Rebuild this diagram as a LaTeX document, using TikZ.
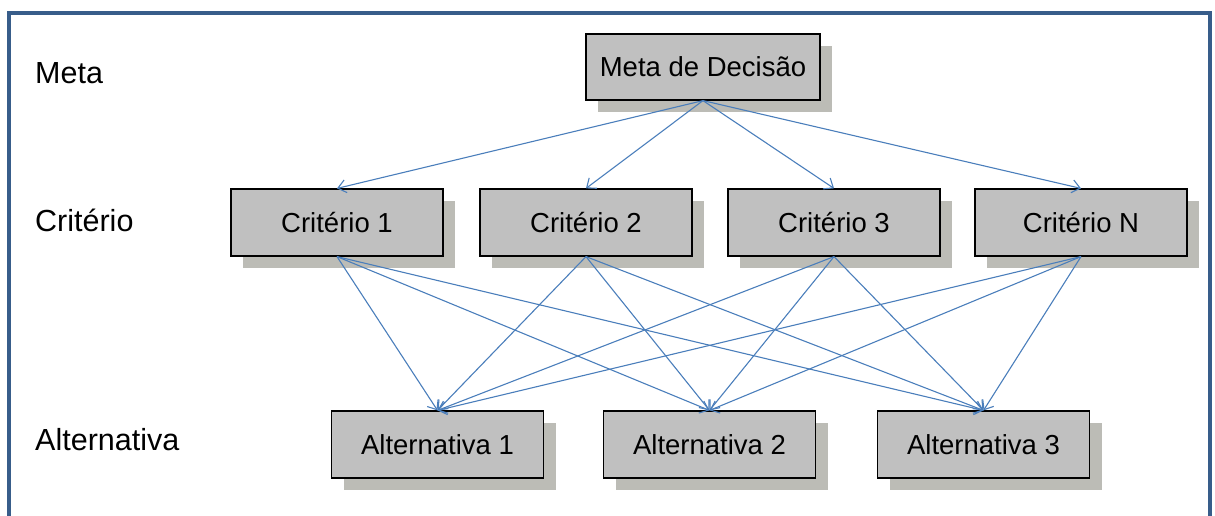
\documentclass[tikz,border=0pt]{standalone}
\usepackage{fontspec}
\setmainfont{Liberation Sans}
\usetikzlibrary{arrows.meta}
\usetikzlibrary{shadows}

\definecolor{frameblue}{RGB}{56,93,138}
\definecolor{boxgray}{RGB}{192,192,192}
\definecolor{shadowgray}{RGB}{188,188,182}
\definecolor{linkblue}{RGB}{74,126,187}

\begin{document}
\begin{tikzpicture}[x=1pt, y=-1pt, every node/.style={font=\fontsize{27.5}{32}\selectfont}]

		\useasboundingbox (0,0) rectangle (1215,515);
		\draw[frameblue, line width=4pt] (9,13) rectangle (1210,545);

		\tikzset{level box/.style={draw, line width=1.2pt, fill=boxgray, inner sep=0pt,
				minimum width=212pt, minimum height=67pt,
				drop shadow={shadow xshift=12pt, shadow yshift=-12pt, fill=shadowgray, opacity=1}},
			link/.style={-{Straight Barb[length=8pt,width=13pt]}, linkblue, line width=1.1pt},
			level name/.style={anchor=west, inner sep=0pt, font=\fontsize{30.5}{36}\selectfont}}

		% Levels
		\node[level name] (lmeta) at (35,73) {Meta};
		\node[level name] (lcrit) at (35,220) {Critério};
		\node[level name] (lalt) at (35,440) {Alternativa};

		\node[level box, minimum width=234pt, minimum height=66pt] (meta) at (703,67) {Meta de Decisão};
		\foreach \x/\i/\t in {337/1/Critério 1, 586/2/Critério 2, 834/3/Critério 3, 1081/4/Critério N}{\node[level box] (crit\i) at (\x,222.5) {\t};}
		\foreach \x/\j in {437.5/1, 709.5/2, 983.5/3}{\node[level box] (alt\j) at (\x,444.5) {Alternativa \j};}

		% Connectors
		\foreach \i in {1,...,4}{\draw[link] (meta.south) -- (crit\i.north);}
		\foreach \i in {1,...,4}{\foreach \j in {1,2,3}{\draw[link] (crit\i.south) -- (alt\j.north);}}
	\end{tikzpicture}
\end{document}
